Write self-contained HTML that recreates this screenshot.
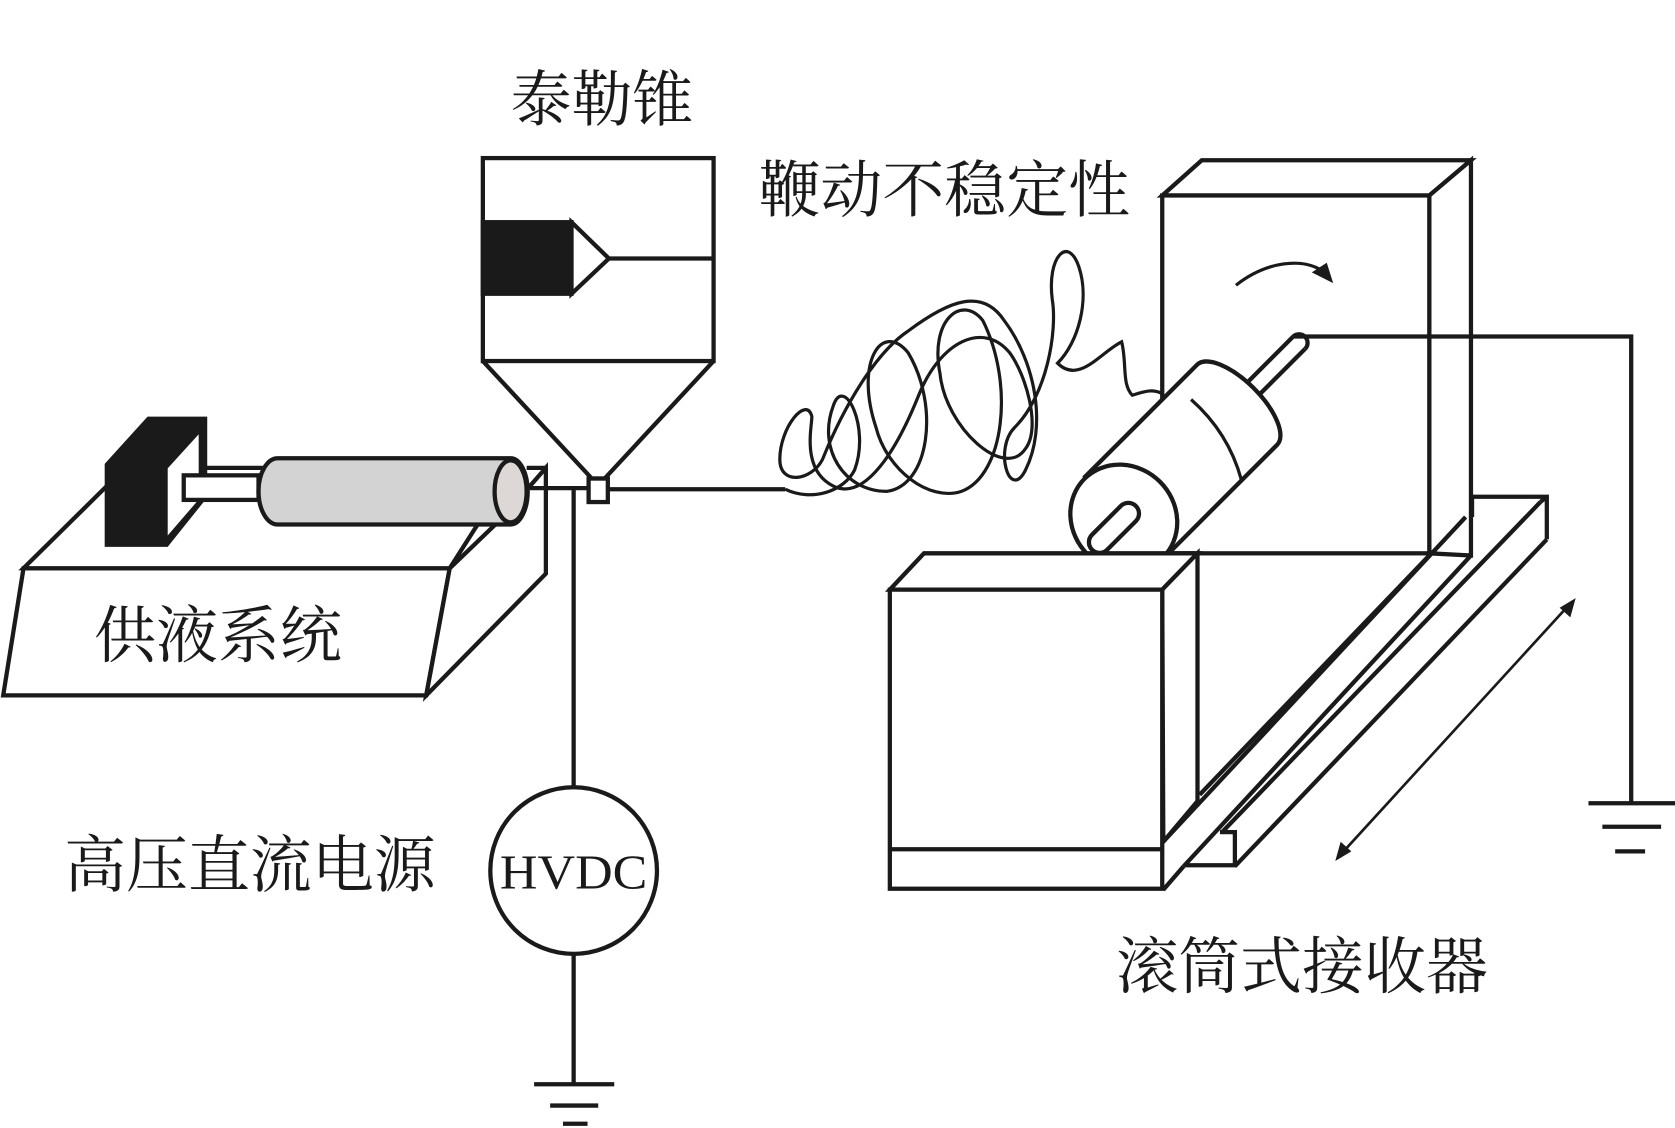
<!DOCTYPE html>
<html><head><meta charset="utf-8"><style>
html,body{margin:0;padding:0;background:#fff;}
svg{display:block;}
text{font-family:"Liberation Serif","Noto Serif CJK SC","Noto Sans CJK SC",serif;fill:#1a1a1a;}
</style></head><body>
<svg width="1675" height="1128" viewBox="0 0 1568 1056" preserveAspectRatio="none" xmlns="http://www.w3.org/2000/svg">
<g fill="none" stroke="#1a1a1a" stroke-width="4" stroke-linejoin="miter">
<!-- Taylor cone box -->
<rect x="452" y="148" width="216" height="190" fill="#fff"/>
<rect x="452" y="208" width="83" height="67" fill="#1a1a1a"/>
<polygon points="535,208 570,242 535,275" fill="#fff"/>
<line x1="570" y1="242" x2="668" y2="242"/>
<polyline points="452,338 554,448 566,448 668,338"/>
<rect x="551" y="448" width="18" height="22" fill="#fff"/>
<!-- pump -->
<polygon points="22,532 421,532 399,651 3,651" fill="#fff"/>
<polygon points="22,532 100,455 470,455 421,532" fill="#fff"/>
<polygon points="421,532 470,485 511,438 511,537 399,651" fill="#fff"/>
<!-- block -->
<polygon points="100,435 139,392 192,392 192,465 156,510 100,510" fill="#1a1a1a"/>
<polygon points="156,438 187,404 187,468 156,504" fill="#fff" stroke-width="2"/>
<line x1="192" y1="438" x2="246" y2="438"/>
<rect x="172" y="445" width="70" height="23" fill="#fff"/>
<path d="M260,429 L478,429 A16,31 0 0 1 478,491 L260,491 A18,31 0 0 1 260,429 Z" fill="#d3d3d3"/>
<ellipse cx="478" cy="460" rx="15" ry="29" fill="#ddd8d6"/>
<polyline points="493,438 511,438"/>
<line x1="496" y1="457" x2="551" y2="457"/>
<line x1="569" y1="458" x2="735" y2="458"/>
<line x1="537" y1="458" x2="537" y2="737"/>
<circle cx="537" cy="815" r="78" fill="#fff"/>
<line x1="537" y1="893" x2="537" y2="1015"/>
<line x1="500" y1="1015" x2="575" y2="1015"/>
<line x1="515" y1="1035" x2="560" y2="1035"/>
<line x1="527" y1="1052" x2="550" y2="1052"/>
<!-- fiber -->
<path d="M735,458 C760,470 790,460 800,440 C815,400 790,350 780,380 C765,420 790,460 830,460 C870,455 880,380 850,330 C825,300 800,340 820,400 C830,440 870,470 900,460 C940,445 950,360 920,300 C900,275 870,300 880,350 C885,400 940,450 960,420 C975,400 960,350 945,330 C920,300 880,320 860,370 C840,420 810,470 780,455 C750,440 760,400 760,390 C755,370 730,400 730,430 C730,455 760,450 770,430 C790,380 820,330 850,310 C890,280 920,270 940,300 C970,340 980,400 960,440 C945,470 930,420 950,400 C980,370 990,310 985,280 C980,240 1000,220 1010,250 C1020,280 1010,320 990,340 C1010,360 1030,330 1050,320 C1055,340 1050,360 1060,370 C1075,365 1080,365 1087,368" stroke-width="3"/>
<!-- collector back board -->
<polygon points="1088,183 1125,150 1377,150 1338,183" fill="#fff"/>
<polygon points="1338,183 1377,150 1377,520 1338,518" fill="#fff"/>
<rect x="1088" y="183" width="250" height="335" fill="#fff"/>
<!-- rail -->
<polyline points="1378,484 1378,465 1448,465 1448,505"/>
<line x1="1442" y1="470" x2="1448" y2="465"/>
<line x1="1123" y1="744" x2="1337" y2="521"/>
<line x1="1372" y1="484" x2="1089" y2="788"/>
<line x1="1377" y1="520" x2="1108" y2="811"/>
<line x1="1442" y1="470" x2="1144" y2="779"/>
<line x1="1448" y1="505" x2="1156" y2="811"/>
<polyline points="1110,810 1156,810 1156,779 1142,779"/>
<line x1="1089" y1="833" x2="1108" y2="811"/>
<!-- drum -->
<g transform="translate(1052,485) rotate(-45)">
<line x1="150" y1="-8" x2="232" y2="-8"/>
<line x1="150" y1="8" x2="232" y2="8"/>
<path d="M232,-8 A8,8 0 0 1 232,8" fill="#fff"/>
<path d="M0,-53 L150,-53 A22,53 0 0 1 150,53 L0,53" fill="#fff"/>
<ellipse cx="0" cy="0" rx="48" ry="52" fill="#fff"/>
<rect x="-42" y="-10" width="58" height="20" rx="10" fill="#fff"/>
</g>
<path d="M1115,374 Q1150,405 1162,449" stroke-width="3"/>
<!-- front box -->
<polygon points="833,552 865,518 1121,518 1088,552" fill="#fff"/>
<polygon points="1088,552 1121,518 1121,750 1089,788" fill="#fff"/>
<rect x="833" y="552" width="255" height="280" fill="#fff"/>
<line x1="833" y1="795" x2="1088" y2="795"/>
<!-- rotation arrow -->
<path d="M1157,267 C1185,245 1220,240 1240,255" stroke-width="3"/>
<polygon points="1248,265 1228,255 1242,246" fill="#1a1a1a" stroke="none"/>
<!-- ground wire -->
<polyline points="1210,315 1527,315 1527,752"/>
<line x1="1487" y1="752" x2="1568" y2="752"/>
<line x1="1500" y1="774" x2="1555" y2="774"/>
<line x1="1512" y1="797" x2="1540" y2="797"/>
<!-- double arrow -->
<line x1="1470" y1="565" x2="1255" y2="800" stroke-width="2.5"/>
<polygon points="1475,560 1470,578 1460,569" fill="#1a1a1a" stroke="none"/>
<polygon points="1250,806 1255,788 1265,797" fill="#1a1a1a" stroke="none"/>
</g>
<text x="478" y="113" font-size="57">泰勒锥</text>
<text x="710" y="198" font-size="58">鞭动不稳定性</text>
<text x="88" y="615" font-size="58">供液系统</text>
<text x="60" y="830" font-size="58">高压直流电源</text>
<text x="1045" y="925" font-size="58">滚筒式接收器</text>
<text x="537" y="832" font-size="46" text-anchor="middle" textLength="138" lengthAdjust="spacingAndGlyphs">HVDC</text>
</svg>
</body></html>
